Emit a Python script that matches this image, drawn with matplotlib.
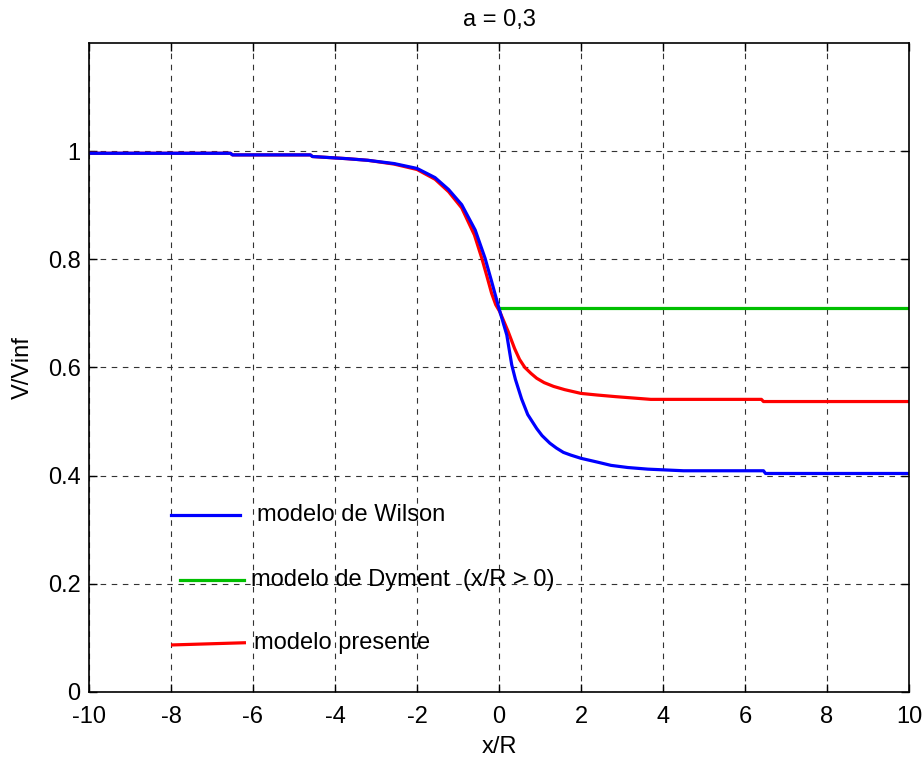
import matplotlib
matplotlib.use('Agg')
import matplotlib.pyplot as plt

# Data
x_wilson = [-10, -6.55, -6.5, -4.6, -4.55, -3.7, -3.2, -2.56, -2.0, -1.56, -1.23,
            -0.91, -0.58, -0.34, -0.18, 0.0, 0.19, 0.31, 0.4, 0.55, 0.7, 0.92, 1.05,
            1.24, 1.4, 1.57, 1.75, 2.0, 2.4, 2.73, 3.14, 3.63, 4.5, 6.45, 6.5, 10]
y_wilson = [0.996, 0.996, 0.993, 0.993, 0.990, 0.986, 0.983, 0.977, 0.968, 0.951, 0.929,
            0.901, 0.854, 0.802, 0.759, 0.709, 0.660, 0.605, 0.578, 0.542, 0.513, 0.487, 0.474,
            0.460, 0.451, 0.443, 0.438, 0.432, 0.425, 0.419, 0.415, 0.412, 0.409, 0.409, 0.404, 0.404]

x_presente = [-10, -6.55, -6.5, -4.6, -4.55, -3.7, -3.2, -2.56, -2.0, -1.56, -1.23,
              -0.91, -0.6, -0.42, -0.3, -0.18, -0.08, 0.02, 0.22, 0.38, 0.5, 0.63, 0.78,
              0.92, 1.1, 1.33, 1.6, 2.0, 2.4, 2.85, 3.7, 6.4, 6.45, 10]
y_presente = [0.996, 0.996, 0.993, 0.993, 0.990, 0.986, 0.983, 0.976, 0.966, 0.948, 0.925,
              0.895, 0.845, 0.802, 0.770, 0.737, 0.716, 0.703, 0.667, 0.635, 0.615, 0.600, 0.589,
              0.580, 0.572, 0.565, 0.559, 0.552, 0.549, 0.546, 0.541, 0.541, 0.537, 0.537]

x_dyment = [0, 10]
y_dyment = [0.71, 0.71]

labels = ['modelo de Wilson', 'modelo de Dyment  (x/R > 0)', 'modelo presente']
colors = ['#0000ff', '#00bf00', '#ff0000']

plt.rcParams['font.family'] = ['Liberation Sans', 'DejaVu Sans']
plt.rcParams['axes.unicode_minus'] = False

fig = plt.figure(figsize=(9.24, 7.6), dpi=100)
ax = fig.add_axes([0.0963, 0.0895, 0.8875, 0.854])

ax.plot(x_presente, y_presente, color=colors[2], lw=2.3)
ax.plot(x_dyment, y_dyment, color=colors[1], lw=2.3)
ax.plot(x_wilson, y_wilson, color=colors[0], lw=2.3)

# hand-drawn legend
ax.plot([-8.0, -6.31], [0.327, 0.327], color=colors[0], lw=2.3)
ax.text(-5.9, 0.327, labels[0], fontsize=17, va='center')
ax.plot([-7.78, -6.21], [0.207, 0.207], color=colors[1], lw=2.3)
ax.text(-6.05, 0.207, labels[1], fontsize=17, va='center')
ax.plot([-7.96, -6.21], [0.087, 0.091], color=colors[2], lw=2.3)
ax.text(-5.98, 0.091, labels[2], fontsize=17, va='center')

ax.set_xlim(-10, 10)
ax.set_ylim(0, 1.2)
ax.set_xticks(range(-10, 11, 2))
ax.set_yticks([0, 0.2, 0.4, 0.6, 0.8, 1.0])
ax.set_yticklabels(['0', '0.2', '0.4', '0.6', '0.8', '1'])
ax.tick_params(direction='in', top=True, right=True, length=6, width=1, labelsize=17)
ax.tick_params(axis='x', pad=10)
ax.tick_params(axis='y', pad=6)
ax.grid(True, color='#333333', linestyle=(0, (5, 5)), linewidth=0.8)
for s in ax.spines.values():
    s.set_linewidth(1.2)

ax.set_xlabel('x/R', fontsize=17, labelpad=6)
ax.set_ylabel('V/Vinf', fontsize=17, labelpad=10)
ax.set_title('a = 0,3', fontsize=17, pad=12)

fig.savefig('out.png', dpi=100)
